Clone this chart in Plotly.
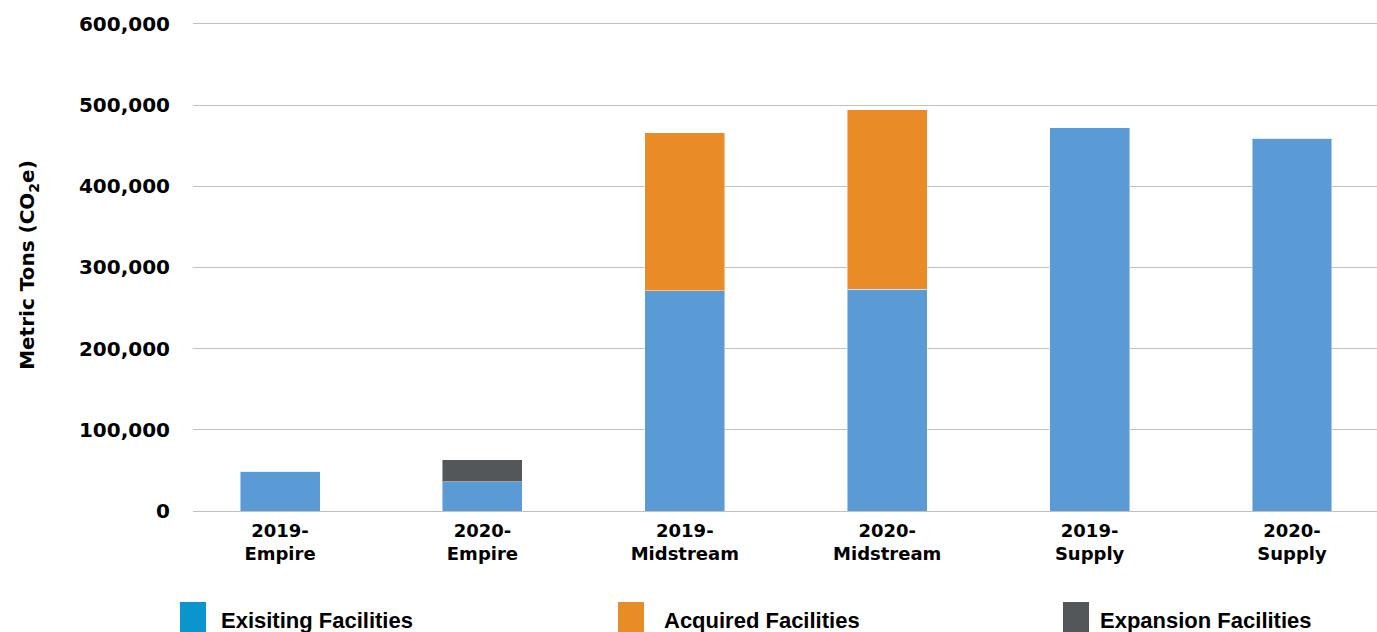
import plotly.graph_objects as go

categories = ["2019-<br>Empire", "2020-<br>Empire", "2019-<br>Midstream",
              "2020-<br>Midstream", "2019-<br>Supply", "2020-<br>Supply"]
existing = [49000, 36000, 271000, 273000, 472000, 459000]
acquired = [0, 0, 195000, 221000, 0, 0]
expansion = [0, 27000, 0, 0, 0, 0]
series_names = ["Exisiting Facilities", "Acquired Facilities", "Expansion Facilities"]
y_ticks = [0, 100000, 200000, 300000, 400000, 500000, 600000]

W, H = 1377, 632
L, R, T, B = 193, 0, 19, 121

bar_colors = ["#5B9BD5", "#E98B26", "#54575A"]
legend_colors = ["#0A95CC", "#E98B26", "#54575A"]

fig = go.Figure()
for name, vals, col in zip(series_names, [existing, acquired, expansion], bar_colors):
    fig.add_trace(go.Bar(
        x=list(range(len(categories))), y=vals, name=name,
        marker=dict(color=col, line=dict(color="rgba(255,255,255,0.45)", width=1)),
        width=0.395, showlegend=False,
    ))

fig.update_layout(
    barmode="stack",
    width=W, height=H,
    margin=dict(l=L, r=R, t=T, b=B, autoexpand=False),
    paper_bgcolor="white", plot_bgcolor="white",
    font=dict(family="DejaVu Sans", color="black"),
    xaxis=dict(
        range=[-0.43, 5.42],
        tickmode="array", tickvals=list(range(len(categories))), ticktext=categories,
        tickfont=dict(family="DejaVu Sans", size=18, color="black", weight="bold"),
        showgrid=False, zeroline=False, showline=False,
        ticks="outside", ticklen=3, tickcolor="rgba(0,0,0,0)",
    ),
    yaxis=dict(
        range=[0, 606000],
        tickmode="array", tickvals=y_ticks,
        ticktext=[f"{v:,}" for v in y_ticks],
        tickfont=dict(family="DejaVu Sans", size=20, color="black", weight="bold"),
        showgrid=True, gridcolor="#C0C0C0", gridwidth=1,
        zeroline=True, zerolinecolor="#C0C0C0", zerolinewidth=1,
        ticks="outside", ticklen=18, tickcolor="rgba(0,0,0,0)",
        title=dict(text="Metric Tons (CO<sub>2</sub>e)",
                   font=dict(family="DejaVu Sans", size=20, color="black", weight="bold"),
                   standoff=38),
        automargin=False,
    ),
)

pw = W - L - R
ph = H - T - B
def px2paper_x(px):
    return (px - L) / pw
def px2paper_y(py):
    return (H - B - py) / ph

swatch_x = [180, 618, 1063]
text_x = [219, 662, 1098]
for i, name in enumerate(series_names):
    fig.add_shape(type="rect", xref="paper", yref="paper",
                  x0=px2paper_x(swatch_x[i]), x1=px2paper_x(swatch_x[i] + 26),
                  y0=px2paper_y(602), y1=px2paper_y(640),
                  fillcolor=legend_colors[i], line=dict(width=0))
    fig.add_annotation(xref="paper", yref="paper",
                       x=px2paper_x(text_x[i]), y=px2paper_y(635),
                       xanchor="left", yanchor="bottom", showarrow=False,
                       text=name,
                       font=dict(family="Liberation Sans", size=22, color="black", weight="bold"))

fig.write_html("out.html")
